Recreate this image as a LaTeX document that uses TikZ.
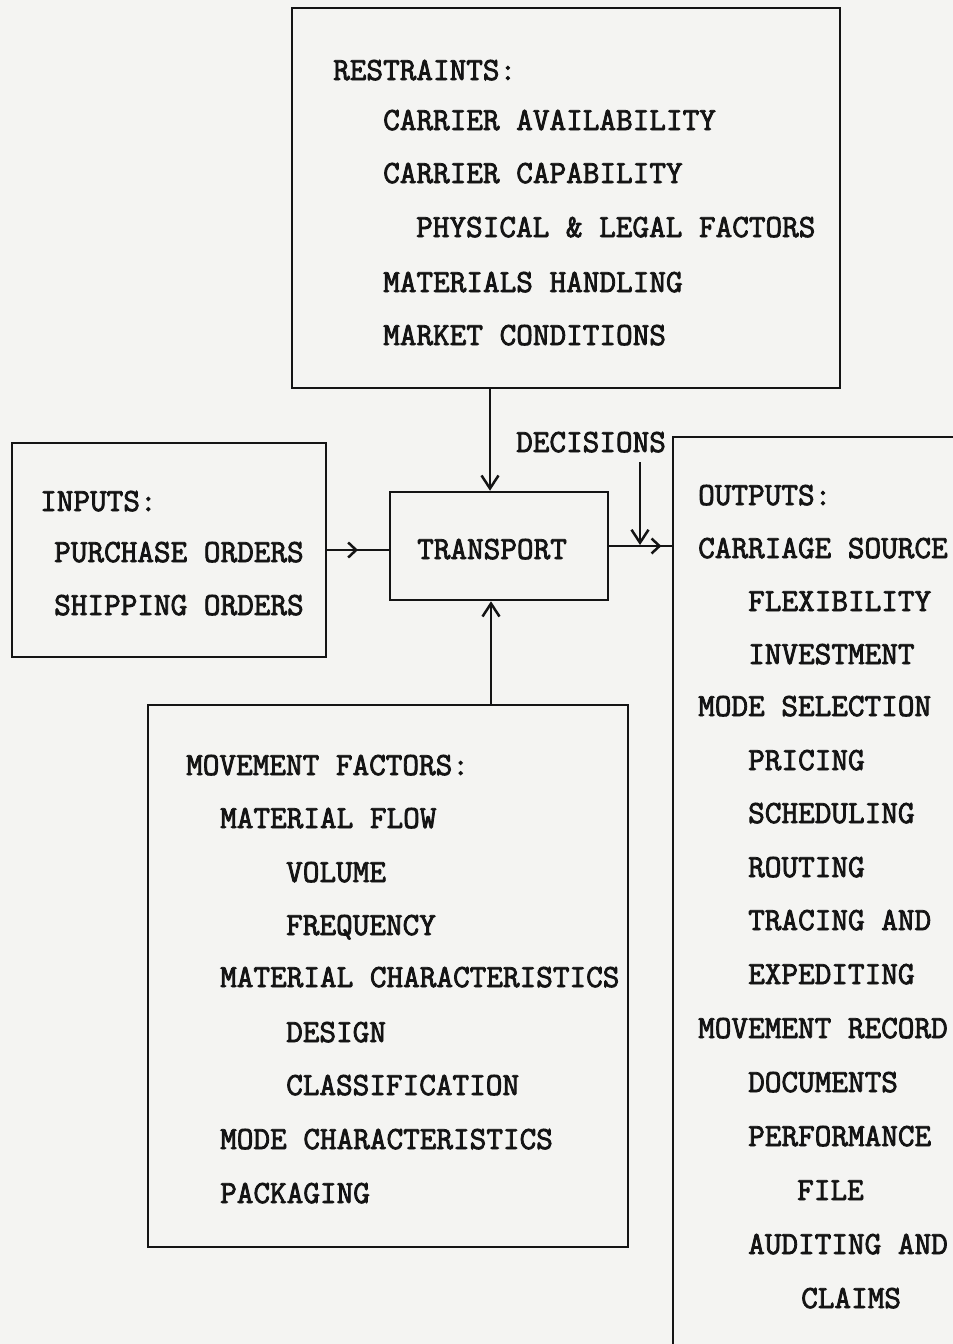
\documentclass[tikz,border=0pt]{standalone}
\usepackage{fontspec}
\setmonofont[FakeBold=2.5]{Latin Modern Mono}
\usetikzlibrary{arrows.meta,decorations.markings}
\definecolor{paper}{RGB}{244,244,242}
\definecolor{ink}{RGB}{20,20,20}
\begin{document}
\begin{tikzpicture}[x=1pt,y=-1pt,
  box/.style={draw=ink, line width=2.5pt, inner sep=0pt, rectangle},
  txt/.style={anchor=base west, inner sep=0pt, text=ink, font=\ttfamily\fontsize{32.3}{38}\selectfont},
  conn/.style={draw=ink, line width=2.5pt, -{Straight Barb[length=13pt,width=17pt,line width=2.5pt]}},
  midarr/.style={draw=ink, line width=2.5pt, postaction={decorate}, decoration={markings, mark=at position #1 with {\arrow[ink]{Straight Barb[length=8pt,width=15pt,line width=2.5pt]}}}},
  midarr/.default=0.5
]
\fill[paper] (0,0) rectangle (953,1344);
\useasboundingbox (0,0) rectangle (953,1344);

% boxes
\node[box, minimum width=548, minimum height=380] (restr) at (566,198) {};
\node[box, minimum width=314, minimum height=214] (inp) at (169,550) {};
\node[box, minimum width=218, minimum height=108] (tr) at (499,546) {};
\node[box, minimum width=480, minimum height=542] (mov) at (388,976) {};
\node[inner sep=0pt, minimum width=282, minimum height=909] (outb) at (814,891.5) {};
\draw[ink, line width=2.5pt] (outb.north east) -- (outb.north west) -- (outb.south west);

% restraints text
\node[txt] (r0) at (333,80) {RESTRAINTS:};
\node[txt] (r1) at (383,130) {CARRIER AVAILABILITY};
\node[txt] (r2) at (383,183) {CARRIER CAPABILITY};
\node[txt] (r3) at (416,237) {PHYSICAL \& LEGAL FACTORS};
\node[txt] (r4) at (383,292) {MATERIALS HANDLING};
\node[txt] (r5) at (383,345) {MARKET CONDITIONS};

% inputs text
\node[txt] (i0) at (40,511) {INPUTS:};
\node[txt] (i1) at (54,562) {PURCHASE ORDERS};
\node[txt] (i2) at (54,615) {SHIPPING ORDERS};

% transport
\node[txt] (trt) at (417,559) {TRANSPORT};
\node[txt] (dec) at (516,452) {DECISIONS};

% outputs text
\node[txt] (o0) at (698,505) {OUTPUTS:};
\node[txt] (o1) at (698,558) {CARRIAGE SOURCE};
\node[txt] (o2) at (748,611) {FLEXIBILITY};
\node[txt] (o3) at (748,664) {INVESTMENT};
\node[txt] (o4) at (698,716) {MODE SELECTION};
\node[txt] (o5) at (748,770) {PRICING};
\node[txt] (o6) at (748,823) {SCHEDULING};
\node[txt] (o7) at (748,877) {ROUTING};
\node[txt] (o8) at (748,930) {TRACING AND};
\node[txt] (o9) at (748,984) {EXPEDITING};
\node[txt] (o10) at (698,1038) {MOVEMENT RECORD};
\node[txt] (o11) at (748,1092) {DOCUMENTS};
\node[txt] (o12) at (748,1146) {PERFORMANCE};
\node[txt] (o13) at (797,1200) {FILE};
\node[txt] (o14) at (748,1254) {AUDITING AND};
\node[txt] (o15) at (801,1308) {CLAIMS};

% movement text
\node[txt] (m0) at (186,775) {MOVEMENT FACTORS:};
\node[txt] (m1) at (220,828) {MATERIAL FLOW};
\node[txt] (m2) at (286,882) {VOLUME};
\node[txt] (m3) at (286,935) {FREQUENCY};
\node[txt] (m4) at (220,987) {MATERIAL CHARACTERISTICS};
\node[txt] (m5) at (286,1042) {DESIGN};
\node[txt] (m6) at (286,1095) {CLASSIFICATION};
\node[txt] (m7) at (220,1149) {MODE CHARACTERISTICS};
\node[txt] (m8) at (220,1203) {PACKAGING};

% connectors
\coordinate (dtop) at (640,462);
\coordinate (dbot) at (640,545);
\draw[conn] (restr.south -| 490,0) -- (tr.north -| 490,0);
\draw[conn] (mov.north -| 491,0) -- (tr.south -| 491,0);
\draw[midarr=0.5] (inp.east |- 0,550) -- (tr.west |- 0,550);
\draw[midarr=0.82] (tr.east) -- (outb.west |- tr.east);
\draw[conn] (dtop) -- (dbot);
\end{tikzpicture}
\end{document}
